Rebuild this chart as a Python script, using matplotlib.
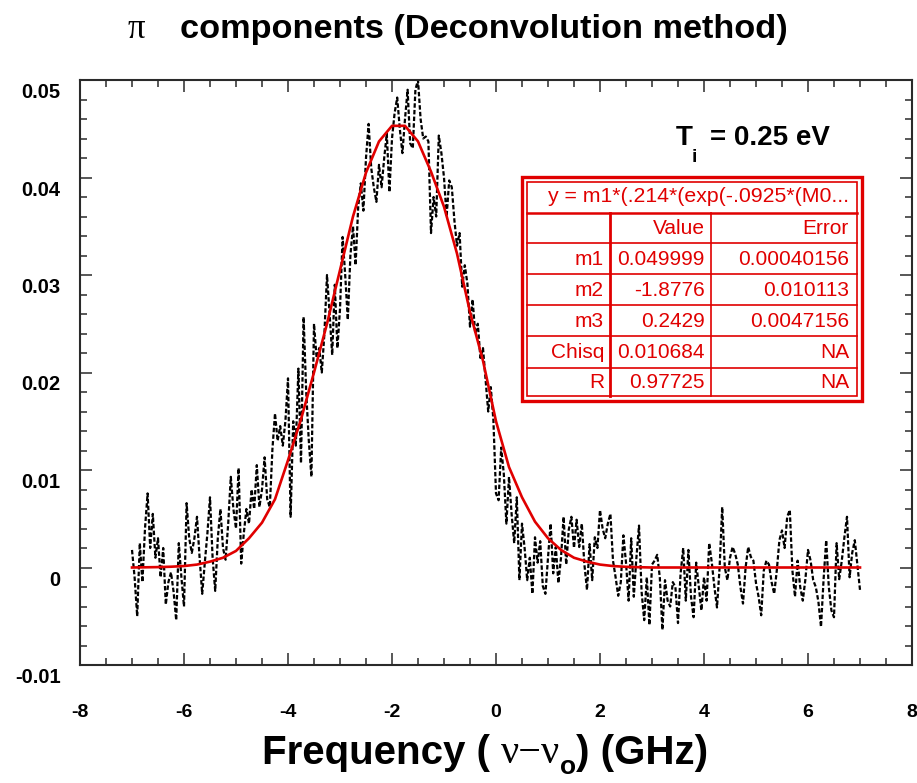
import numpy as np
import matplotlib.pyplot as plt
import matplotlib.transforms as mtransforms
from matplotlib.patches import Rectangle
from matplotlib.lines import Line2D
from matplotlib.ticker import MultipleLocator

plt.rcParams['font.family'] = ['Liberation Sans', 'DejaVu Sans']

# Señal medida (componentes pi), paso 0.05 GHz de -7 a 7
freq = np.linspace(-7.0, 7.0, 281)
intensity = [
    0.0018, -0.0010, -0.0050, 0.0025, -0.0015, 0.0040, 0.0076, 0.0020, 0.0055, 0.0010,
    0.0030, -0.0010, 0.0020, -0.0038, -0.0015, -0.0005, -0.0025, -0.0054, 0.0025, -0.0010,
    -0.0040, 0.0066, 0.0030, 0.0015, 0.0030, 0.0052, 0.0010, -0.0027, 0.0005, 0.0035,
    0.0072, 0.0010, -0.0024, 0.0030, 0.0060, 0.0020, 0.0008, 0.0045, 0.0093, 0.0060,
    0.0040, 0.0102, 0.0004, 0.0035, 0.0060, 0.0045, 0.0080, 0.0060, 0.0105, 0.0062,
    0.0080, 0.0113, 0.0070, 0.0062, 0.0121, 0.0158, 0.0130, 0.0145, 0.0125, 0.0150,
    0.0194, 0.0052, 0.0150, 0.0125, 0.0204, 0.0107, 0.0257, 0.0180, 0.0130, 0.0093,
    0.0250, 0.0215, 0.0225, 0.0200, 0.0240, 0.0300, 0.0260, 0.0218, 0.0290, 0.0225,
    0.0265, 0.0339, 0.0300, 0.0254, 0.0320, 0.0350, 0.0310, 0.0370, 0.0394, 0.0366,
    0.0420, 0.0455, 0.0410, 0.0390, 0.0375, 0.0413, 0.0390, 0.0420, 0.0445, 0.0385,
    0.0440, 0.0466, 0.0482, 0.0450, 0.0425, 0.0460, 0.0490, 0.0435, 0.0430, 0.0490,
    0.0500, 0.0460, 0.0440, 0.0442, 0.0437, 0.0343, 0.0380, 0.0360, 0.0443, 0.0425,
    0.0400, 0.0360, 0.0397, 0.0390, 0.0356, 0.0330, 0.0343, 0.0288, 0.0310, 0.0291,
    0.0247, 0.0275, 0.0240, 0.0250, 0.0215, 0.0225, 0.0192, 0.0160, 0.0185, 0.0151,
    0.0076, 0.0069, 0.0123, 0.0096, 0.0045, 0.0093, 0.0055, 0.0025, 0.0072, -0.0013,
    0.0045, 0.0020, -0.0013, 0.0010, -0.0027, 0.0031, 0.0005, 0.0027, -0.0019, -0.0027,
    0.0010, 0.0045, -0.0006, 0.0021, -0.0016, 0.0010, 0.0052, 0.0003, 0.0039, 0.0052,
    0.0020, 0.0049, 0.0021, 0.0045, 0.0003, -0.0023, 0.0024, -0.0013, 0.0031, 0.0020,
    0.0059, 0.0040, 0.0030, 0.0045, 0.0055, 0.0007, -0.0010, -0.0029, -0.0015, 0.0033,
    0.0005, -0.0034, 0.0030, -0.0030, 0.0010, 0.0043, -0.0025, -0.0054, -0.0010, -0.0059,
    0.0003, 0.0007, 0.0013, -0.0010, -0.0064, -0.0013, -0.0034, -0.0040, -0.0015, -0.0020,
    -0.0057, -0.0006, 0.0020, -0.0034, 0.0018, -0.0030, -0.0051, 0.0005, -0.0020, -0.0044,
    -0.0010, -0.0034, 0.0025, 0.0005, -0.0020, -0.0041, 0.0000, 0.0062, 0.0000, -0.0013,
    0.0010, 0.0021, 0.0014, 0.0003, -0.0020, -0.0037, 0.0000, 0.0021, 0.0011, 0.0007,
    -0.0016, -0.0030, -0.0049, -0.0003, 0.0007, 0.0003, -0.0015, -0.0027, -0.0003, 0.0028,
    0.0038, 0.0020, 0.0052, 0.0059, -0.0003, -0.0030, 0.0007, -0.0020, -0.0034, -0.0012,
    0.0018, 0.0007, -0.0013, -0.0020, -0.0035, -0.0061, -0.0012, 0.0028, -0.0020, -0.0044,
    -0.0051, 0.0025, -0.0012, 0.0007, 0.0031, 0.0052, -0.0010, 0.0015, 0.0028, 0.0003,
    -0.0023,
]

# Curva de ajuste (paso 0.25 GHz)
fit_freq = np.linspace(-7.0, 7.0, 57)
fit_vals = [
    0.0, 0.00002, 0.00004, 0.00008, 0.00015, 0.0003, 0.0006, 0.0010, 0.0017, 0.0030,
    0.0046, 0.0070, 0.0110, 0.0152, 0.0200, 0.0250, 0.0305, 0.0360, 0.0405, 0.0437,
    0.0453, 0.0453, 0.0437, 0.0406, 0.0370, 0.0322, 0.0262, 0.0212, 0.0150, 0.0103,
    0.0072, 0.0047, 0.0030, 0.0018, 0.0010, 0.0006, 0.0003, 0.00015, 0.00007, 0.00003,
    0.0, 0.0, 0.0, 0.0, 0.0, 0.0, 0.0, 0.0, 0.0, 0.0,
    0.0, 0.0, 0.0, 0.0, 0.0, 0.0, 0.0,
]

# Tabla de parámetros
table_rows = [
    ['', 'Value', 'Error'],
    ['m1', '0.049999', '0.00040156'],
    ['m2', '-1.8776', '0.010113'],
    ['m3', '0.2429', '0.0047156'],
    ['Chisq', '0.010684', 'NA'],
    ['R', '0.97725', 'NA'],
]
table_header = 'y = m1*(.214*(exp(-.0925*(M0...'

W, H = 917, 783
fig = plt.figure(figsize=(W / 100, H / 100), dpi=100)

def fx(px):
    return px / W

def fy(py):
    return 1 - py / H

ax = fig.add_axes([fx(80), fy(665), 832 / W, 585 / H])

frame = '#2a2a2a'
red = '#e00000'

ax.plot(freq, intensity, color='black', lw=1.6, ls=(0, (2, 1.0)), zorder=2)
ax.plot(fit_freq, fit_vals, color=red, lw=1.9, zorder=3)

ax.set_xlim(-8, 8)
ax.set_ylim(-0.01, 0.05)
ax.set_xticks(np.arange(-8, 9, 2))
ax.set_xticklabels([f'{v:d}' for v in range(-8, 9, 2)])
ax.set_yticks([-0.01, 0, 0.01, 0.02, 0.03, 0.04, 0.05])
ax.set_yticklabels(['-0.01', '0', '0.01', '0.02', '0.03', '0.04', '0.05'])
ax.xaxis.set_minor_locator(MultipleLocator(0.5))
ax.yaxis.set_minor_locator(MultipleLocator(0.002))

for s in ax.spines.values():
    s.set_linewidth(1.5)
    s.set_color(frame)

ax.tick_params(which='both', direction='in', top=True, right=True, color=frame, width=1.1)
ax.tick_params(which='major', length=8.5)
ax.tick_params(which='minor', length=5)
ax.tick_params(axis='x', pad=28, labelsize=14)
ax.tick_params(axis='y', pad=14, labelsize=14.5)
for lab in ax.get_xticklabels() + ax.get_yticklabels():
    lab.set_fontweight('bold')
shift = mtransforms.ScaledTranslation(0, -0.105, fig.dpi_scale_trans)
for lab in ax.get_yticklabels():
    lab.set_transform(lab.get_transform() + shift)

# Título
fig.text(fx(128), fy(38), 'π', family=['Liberation Serif', 'DejaVu Serif'],
         fontsize=25, va='baseline', ha='left')
fig.text(fx(180), fy(38), 'components (Deconvolution method)', fontsize=24.7,
         fontweight='bold', va='baseline', ha='left')

# Etiqueta del eje x
t1 = fig.text(fx(262), fy(764), 'Frequency ( ', fontsize=29, fontweight='bold',
              va='baseline', ha='left')
t2 = ax.annotate('ν−ν', xy=(1, 0), xycoords=t1, va='bottom', ha='left',
                 family=['Liberation Serif', 'DejaVu Serif'], fontsize=29)
t3 = ax.annotate('o', xy=(1, 0), xycoords=t2, xytext=(0, -5), textcoords='offset points',
                 va='bottom', ha='left', fontsize=19, fontweight='bold')
ax.annotate(') (GHz)', xy=(1, 0), xycoords=(t3, t1), va='bottom', ha='left',
            fontsize=29, fontweight='bold')

# T_i
fig.text(fx(676), fy(145), 'T', fontsize=20, fontweight='bold', va='baseline')
fig.text(fx(692), fy(162), 'i', fontsize=14, fontweight='bold', va='baseline')
fig.text(fx(710), fy(145), '= 0.25 eV', fontsize=20, fontweight='bold', va='baseline')

# Tabla con doble borde
L, R, T, B = 522, 862, 177, 401
fig.add_artist(Rectangle((fx(L), fy(B)), fx(R) - fx(L), fy(T) - fy(B), fill=False,
                         edgecolor=red, lw=2.4, transform=fig.transFigure))
fig.add_artist(Rectangle((fx(L + 5), fy(B - 5)), fx(R - 5) - fx(L + 5), fy(T + 5) - fy(B - 5),
                         fill=False, edgecolor=red, lw=1.2, transform=fig.transFigure))
row_lines = [213, 243, 274, 305, 336, 368]
for i, yy in enumerate(row_lines):
    fig.add_artist(Line2D([fx(L + 5), fx(R - 5)], [fy(yy), fy(yy)], color=red,
                          lw=1.8 if i == 0 else 1.2, transform=fig.transFigure))
col_lines = [610, 711]
for i, xx in enumerate(col_lines):
    fig.add_artist(Line2D([fx(xx), fx(xx)], [fy(213), fy(B - 5)], color=red,
                          lw=2.0 if i == 0 else 1.2, transform=fig.transFigure))

fig.text(fx(849), fy(196), table_header, fontsize=15.3, color=red, ha='right', va='center')
row_edges = [213] + row_lines[1:] + [B - 5]
col_right = [604, 705, 849]
for r, row in enumerate(table_rows):
    yc = (row_edges[r] + row_edges[r + 1]) / 2 + 1
    for c, txt in enumerate(row):
        if txt:
            fig.text(fx(col_right[c]), fy(yc), txt, fontsize=15, color=red,
                     ha='right', va='center')

fig.savefig('out.png', dpi=100)
